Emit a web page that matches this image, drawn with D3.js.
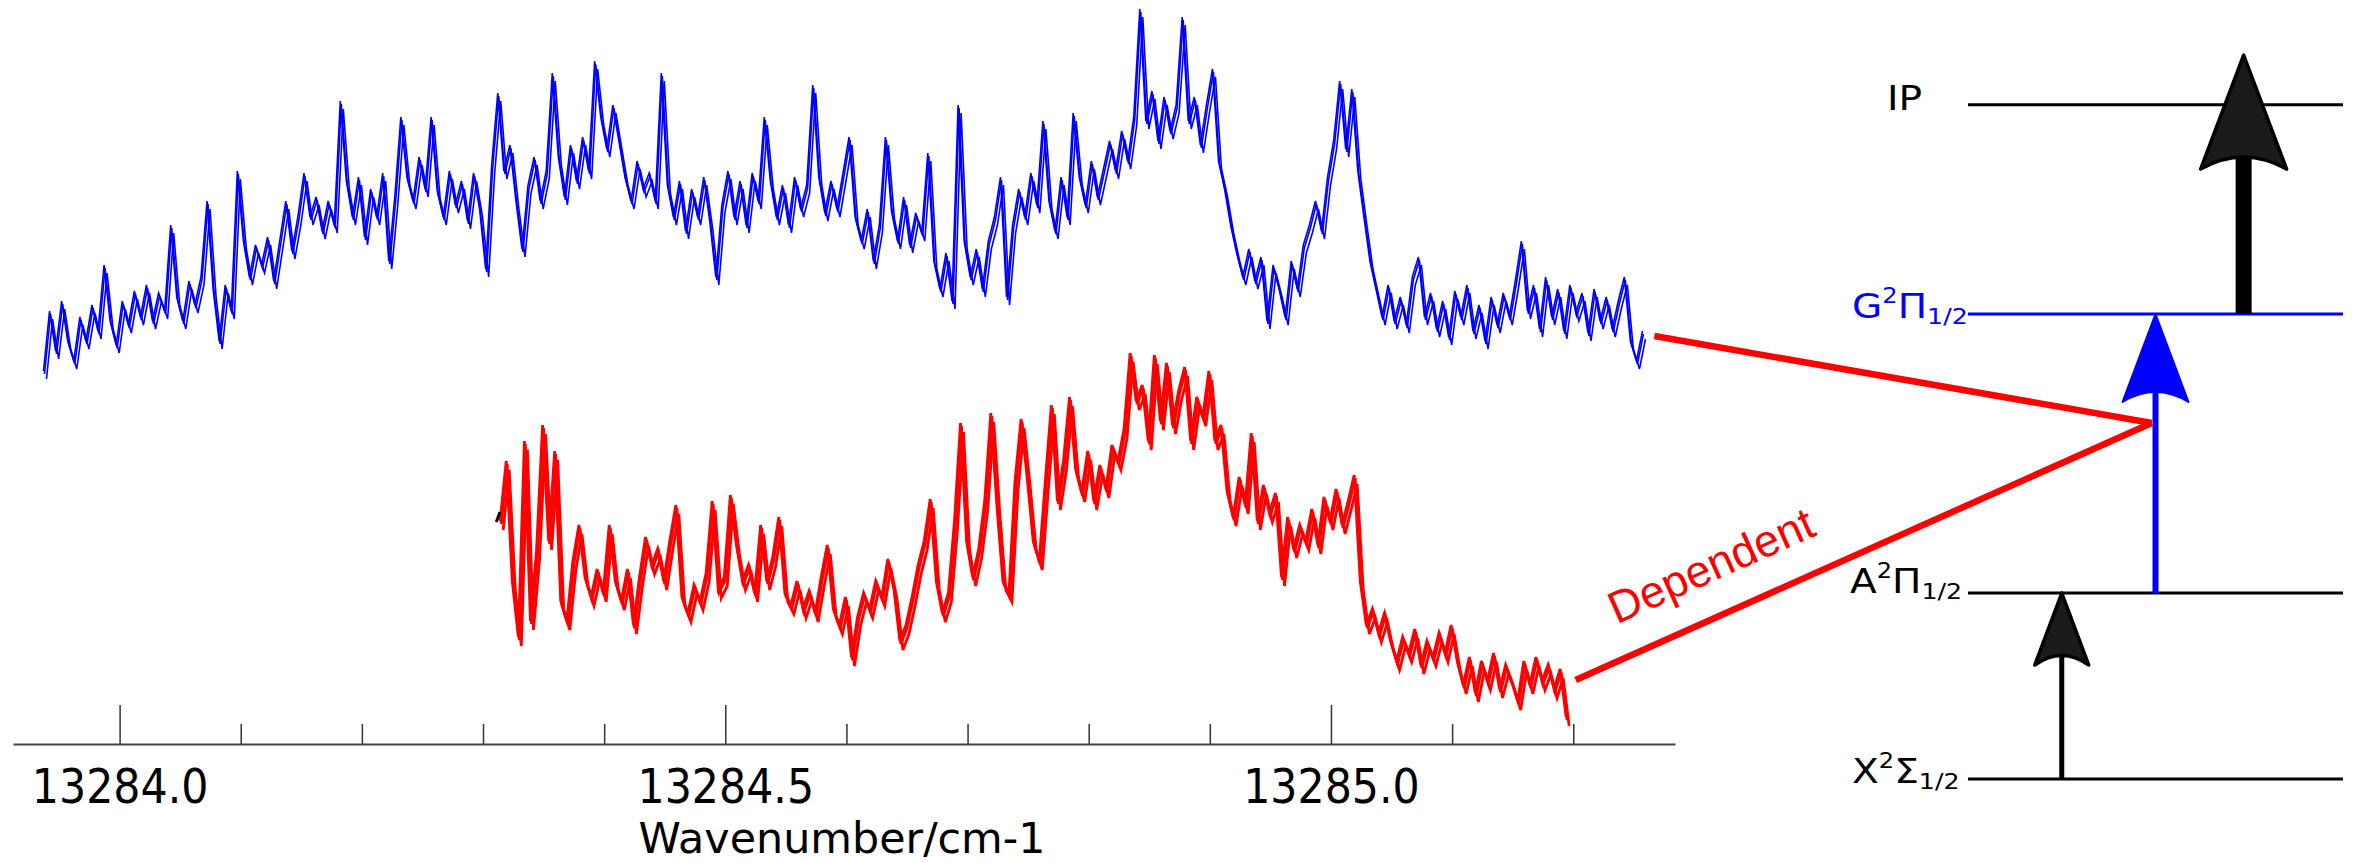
<!DOCTYPE html>
<html><head><meta charset="utf-8">
<script src="https://cdn.jsdelivr.net/npm/d3@7"></script>
<style>html,body{margin:0;padding:0;background:#fff;} svg{display:block;}</style>
</head><body>
<svg id="chart" width="2362" height="863"></svg>
<script>
// ---------- data ----------
const blueStart = 13283.938, blueStep = 0.005;
const blueValues = [185,215,195,220,200,190,212,200,218,205,
 238,210,198,220,208,225,212,228,210,224,
 215,258,222,210,230,218,232,270,226,200,
 228,215,285,250,232,248,238,252,230,250,
 270,245,262,284,262,272,255,270,258,320,
 280,262,282,252,276,262,284,240,272,312,
 282,270,292,276,312,275,262,285,268,280,
 260,284,266,236,288,324,285,298,270,246,
 278,292,270,285,334,292,272,298,280,302,
 285,340,312,296,318,300,282,270,290,276,
 284,270,334,278,262,280,255,276,262,282,
 260,232,268,285,262,280,258,284,270,312,
 280,262,278,258,282,266,278,328,282,264,
 280,266,284,302,262,250,266,240,258,302,
 265,250,272,248,264,254,294,240,226,244,
 220,318,250,232,246,226,250,262,282,222,
 258,276,262,284,268,310,270,255,282,262,
 314,282,268,290,272,286,300,285,305,290,
 312,366,310,325,300,322,305,318,362,310,
 322,298,318,336,290,276,258,244,232,246,
 230,242,210,238,226,212,240,226,248,258,
 270,255,282,300,330,296,326,285,262,240,
 226,212,228,210,222,208,232,242,212,224,
 206,220,202,225,212,228,205,218,200,222,
 208,224,212,230,250,215,228,206,232,212,
 226,205,228,214,224,204,226,210,222,206,
 220,232,200,190,205];

const redStart = 13284.315, redStep = 0.005;
const redValues = [110,140,80,52,150,60,95,158,100,145,
 70,60,90,108,82,72,86,74,108,80,
 70,86,58,82,102,88,96,80,100,118,
 72,64,78,70,84,120,76,82,123,98,
 80,88,74,108,80,92,112,74,68,80,
 66,75,64,82,98,66,58,72,42,62,
 74,66,80,72,91,76,50,58,72,88,
 100,121,80,64,74,110,159,100,82,96,
 120,164,118,80,74,130,161,132,100,90,
 130,168,120,140,172,136,124,145,120,138,
 126,148,140,156,194,170,178,150,193,160,
 189,158,175,187,150,172,162,185,150,158,
 125,112,132,118,154,110,128,114,124,82,
 112,96,108,100,116,98,122,110,126,108,
 120,133,80,58,66,54,64,50,40,52,
 44,56,38,50,42,54,44,58,40,28,
 42,24,40,30,44,26,38,30,20,40,
 28,42,30,38,26,36,12];

const markWavenumbers = [13284.311, 13284.314];
const markValues = [111, 116];

const majorTicks = [13284.0, 13284.5, 13285.0];
const tickLabels = ["13284.0", "13284.5", "13285.0"];
const minorTicks = [13284.1, 13284.2, 13284.3, 13284.4, 13284.6, 13284.7, 13284.8, 13284.9, 13285.1, 13285.2];
const axisTitle = "Wavenumber/cm-1";

// energy-level diagram
const levelLetters = ["IP", "G", "A", "X"];
const levelSup = ["", "2", "2", "2"];
const levelSym = ["", "\u03A0", "\u03A0", "\u03A3"];
const levelSub = ["", "1/2", "1/2", "1/2"];
const levelEnergies = [3.625, 2.5, 1.0, 0];
const arrowFrom = [0, 1.0, 2.5];
const arrowTo = [1.0, 2.5, 3.892];
const connectorLabel = "Dependent";
const connectorVertexEnergy = 1.914;
const upperConnectorStart = [13285.267, 204];
const lowerConnectorStart = [13285.202, 32];

// ---------- drawing ----------
const W = 2362, H = 863;
const svg = d3.select("#chart");
svg.append("rect").attr("width", W).attr("height", H).attr("fill", "#fff");

const x = d3.scaleLinear().domain([13283.912, 13285.284]).range([13, 1675]);
const y = d3.scaleLinear().domain([0, 372]).range([744, 0]);

const blueData = blueValues.map((v, i) => ({w: blueStart + i * blueStep, v}));
const redData = redValues.map((v, i) => ({w: redStart + i * redStep, v}));
const markData = markValues.map((v, i) => ({w: markWavenumbers[i], v}));

const line = d3.line().x(d => x(d.w)).y(d => y(d.v));

// blue traces (repeated scans, slightly shifted)
[[0, 0], [2, 5], [-1, -3]].forEach(o => {
  svg.append("path").datum(blueData)
    .attr("transform", `translate(${o[0]},${o[1]})`)
    .attr("d", line).attr("fill", "none")
    .attr("stroke", "#0000ff").attr("stroke-width", 1.6)
    .attr("stroke-linejoin", "miter");
});
// red traces
[[0, 0], [2, 6], [-1, -3]].forEach(o => {
  svg.append("path").datum(redData)
    .attr("transform", `translate(${o[0]},${o[1]})`)
    .attr("d", line).attr("fill", "none")
    .attr("stroke", "#ff0000").attr("stroke-width", 2.8)
    .attr("stroke-linejoin", "miter");
});
svg.append("path").datum(markData).attr("d", line).attr("fill", "none")
  .attr("stroke", "#000").attr("stroke-width", 3);

// axis: minor ticks
const gMin = svg.append("g").attr("transform", "translate(0,744)")
  .call(d3.axisBottom(x).tickValues(minorTicks).tickSize(-20).tickSizeOuter(0).tickFormat(""));
gMin.select(".domain").remove();
gMin.selectAll(".tick line").attr("stroke", "#333").attr("stroke-width", 1.5);

// axis: major ticks + labels
const gMaj = svg.append("g").attr("transform", "translate(0,744)")
  .call(d3.axisBottom(x).tickValues(majorTicks).tickSize(-39).tickSizeOuter(0)
    .tickFormat((d, i) => tickLabels[i]));
gMaj.attr("font-family", null).attr("font-size", null);
gMaj.select(".domain").attr("stroke", "#444").attr("stroke-width", 2.2);
gMaj.selectAll(".tick line").attr("stroke", "#333").attr("stroke-width", 1.5);
gMaj.selectAll(".tick text")
  .attr("y", 59).attr("dy", null)
  .attr("font-family", "DejaVu Sans").attr("font-size", 48).attr("fill", "#000")
  .attr("transform", "scale(0.89,1)");

svg.append("text")
  .attr("transform", "translate(842,853) scale(1.02,1)")
  .attr("text-anchor", "middle")
  .attr("font-family", "DejaVu Sans").attr("font-size", 42).attr("fill", "#000")
  .text(axisTitle);

// ---------- energy level diagram ----------
const ex = d3.scaleLinear().domain([0, 1]).range([1968, 2343]);
const ey = d3.scaleLinear().domain([0, 3.625]).range([779, 104.75]);
const levelColor = ["#000", "#0000ff", "#000", "#000"];
const labelX = [1887, 1852, 1850, 1852];
const labelDy = [5, 4, 0, 4];

levelEnergies.forEach((e, i) => {
  svg.append("line")
    .attr("x1", ex(0)).attr("x2", ex(1))
    .attr("y1", ey(e)).attr("y2", ey(e))
    .attr("stroke", levelColor[i]).attr("stroke-width", 3);
  const t = svg.append("text")
    .attr("transform", `translate(${labelX[i]},${ey(e) + labelDy[i]}) scale(1.15,1)`)
    .attr("font-family", "DejaVu Sans").attr("font-size", 34).attr("fill", levelColor[i]);
  t.append("tspan").text(levelLetters[i]);
  if (levelSup[i]) {
    t.append("tspan").attr("font-size", 21).attr("dy", -15).text(levelSup[i]);
    t.append("tspan").attr("font-size", 34).attr("dy", 15).text(levelSym[i]);
    t.append("tspan").attr("font-size", 22).attr("dy", 6).text(levelSub[i]);
  }
});

// red connector lines
const vertex = [ex(0.49), ey(connectorVertexEnergy)];
const up0 = [x(upperConnectorStart[0]), y(upperConnectorStart[1])];
const lo0 = [x(lowerConnectorStart[0]), y(lowerConnectorStart[1])];
[up0, lo0].forEach(p => {
  svg.append("line")
    .attr("x1", p[0]).attr("y1", p[1]).attr("x2", vertex[0]).attr("y2", vertex[1])
    .attr("stroke", "#ff0000").attr("stroke-width", 6.5);
});
{
  const dx = vertex[0] - lo0[0], dy = vertex[1] - lo0[1];
  const len = Math.hypot(dx, dy);
  const ux = dx / len, uy = dy / len;
  const perpX = uy, perpY = -ux;
  const sgn = perpY < 0 ? 1 : -1;
  const tpos = 0.27, off = 34;
  const cx = lo0[0] + dx * tpos + sgn * perpX * off;
  const cy = lo0[1] + dy * tpos + sgn * perpY * off;
  const ang = Math.atan2(dy, dx) * 180 / Math.PI;
  svg.append("text")
    .attr("transform", `translate(${cx},${cy}) rotate(${ang})`)
    .attr("text-anchor", "middle")
    .attr("font-family", "Liberation Sans, Arial, sans-serif").attr("font-size", 45)
    .attr("fill", "#ff0000").text(connectorLabel);
}

// arrows
const headHW = [27, 33, 43], headLen = [72, 88, 114], headSag = [9.5, 10, 12];
const shaftW = [5, 6, 16];
const arrowPos = [0.25, 0.5, 0.735];
const arrowFill = ["#1a1a1a", "#0000ff", "#1a1a1a"];
const arrowStroke = ["#000", "#0000ff", "#000"];
arrowFrom.forEach((f, i) => {
  const ax = ex(arrowPos[i]);
  const y0 = ey(f), tipY = ey(arrowTo[i]);
  svg.append("line")
    .attr("x1", ax).attr("x2", ax)
    .attr("y1", y0).attr("y2", tipY + headLen[i] - headSag[i])
    .attr("stroke", arrowStroke[i]).attr("stroke-width", shaftW[i]);
  const p = d3.path();
  p.moveTo(ax, tipY);
  p.lineTo(ax - headHW[i], tipY + headLen[i]);
  p.quadraticCurveTo(ax, tipY + headLen[i] - 2 * headSag[i], ax + headHW[i], tipY + headLen[i]);
  p.closePath();
  svg.append("path").attr("d", p.toString())
    .attr("fill", arrowFill[i]).attr("stroke", arrowStroke[i])
    .attr("stroke-width", i === 1 ? 2 : 3.5).attr("stroke-linejoin", "round");
});
</script>
</body></html>
